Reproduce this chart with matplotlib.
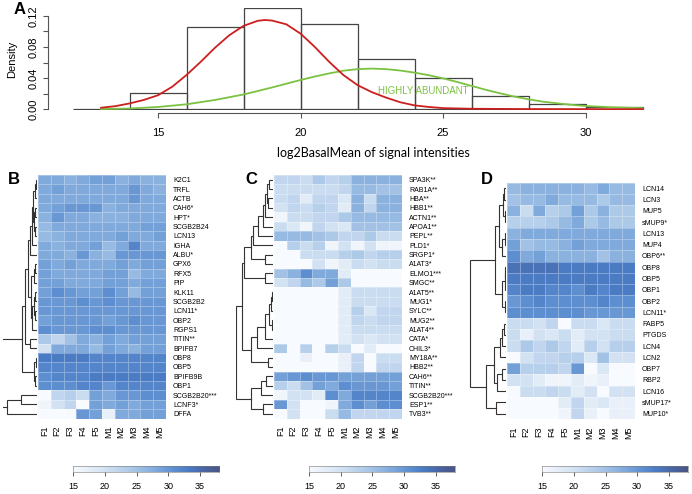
import matplotlib
matplotlib.use("Agg")
import matplotlib.pyplot as plt
import numpy as np
from matplotlib.colors import LinearSegmentedColormap

W, H = 692, 494

# ---------------- Panel A data ----------------
bin_edges = [12, 14, 16, 18, 20, 22, 24, 26, 28, 30, 32]
bin_density = [0.0, 0.0205, 0.105, 0.1295, 0.109, 0.0645, 0.040, 0.0175, 0.0064, 0.0033]

red_x = [13.0, 13.5, 14.0, 14.5, 15.0, 15.5, 16.0, 16.5, 17.0, 17.5, 18.0, 18.5, 18.75, 19.0,
         19.5, 20.0, 20.5, 21.0, 21.5, 22.0, 22.5, 23.0, 23.5, 24.0, 24.5, 25.0, 26, 28, 30, 32]
red_y = [0.002, 0.004, 0.0075, 0.012, 0.018, 0.029, 0.044, 0.061, 0.079, 0.095, 0.107, 0.1135,
         0.1145, 0.1138, 0.109, 0.097, 0.080, 0.061, 0.044, 0.031, 0.022, 0.015, 0.009, 0.005,
         0.003, 0.0015, 0.0007, 0.0003, 0.0002, 0.0001]
green_x = [13, 14, 15, 16, 17, 18, 19, 20, 20.5, 21, 21.5, 22, 22.5, 23, 23.5, 24, 24.5, 25,
           25.5, 26, 26.5, 27, 27.5, 28, 28.5, 29, 29.5, 30, 31, 32]
green_y = [0.0003, 0.001, 0.003, 0.0064, 0.012, 0.019, 0.028, 0.0376, 0.042, 0.046, 0.0495,
           0.0515, 0.0522, 0.0515, 0.0497, 0.047, 0.0437, 0.0397, 0.035, 0.030, 0.025, 0.0205,
           0.0163, 0.0128, 0.0098, 0.0077, 0.0058, 0.0042, 0.0025, 0.0015]

# ---------------- Heatmap data ----------------
samples = ["F1", "F2", "F3", "F4", "F5", "M1", "M2", "M3", "M4", "M5"]

genes_B = ["K2C1", "TRFL", "ACTB", "CAH6*", "HPT*", "SCGB2B24", "LCN13", "IGHA", "ALBU*",
           "GPX6", "RFX5", "PIP", "KLK11", "SCGB2B2", "LCN11*", "OBP2", "RGPS1", "TITIN**",
           "BPIFB7", "OBP8", "OBP5", "BPIFB9B", "OBP1", "SCGB2B20***", "LCNF3*", "DFFA"]
vals_B = [
    [28, 28, 27, 28, 29, 29, 27, 28, 27, 27],
    [28, 29, 28, 28, 28, 28, 28, 30, 28, 27],
    [28, 28, 28, 28, 28, 28, 28, 30, 28, 28],
    [28, 29, 30, 30, 30, 27, 28, 28, 28, 28],
    [27, 30, 28, 28, 27, 27, 27, 28, 28, 28],
    [26, 28, 28, 28, 28, 28, 28, 28, 29, 29],
    [26, 27, 28, 28, 28, 28, 29, 28, 28, 29],
    [28, 27, 28, 28, 29, 26, 28, 32, 28, 28],
    [28, 28, 27, 30, 27, 26, 30, 30, 30, 30],
    [29, 28, 29, 28, 28, 28, 29, 28, 29, 29],
    [29, 28, 28, 28, 28, 29, 29, 26, 28, 28],
    [29, 29, 28, 28, 28, 29, 29, 28, 29, 29],
    [29, 31, 30, 29, 29, 31, 29, 26, 29, 29],
    [30, 30, 30, 31, 30, 31, 30, 30, 30, 30],
    [30, 30, 30, 30, 30, 30, 30, 30, 30, 30],
    [29, 30, 30, 30, 30, 29, 30, 31, 30, 30],
    [31, 30, 30, 30, 31, 31, 30, 30, 30, 30],
    [24, 22, 25, 28, 27, 29, 28, 29, 29, 29],
    [20, 28, 28, 28, 26, 29, 28, 27, 29, 29],
    [33, 33, 33, 33, 32, 32, 32, 32, 32, 32],
    [32, 32, 32, 32, 32, 32, 32, 32, 32, 32],
    [31, 32, 32, 32, 33, 33, 33, 33, 33, 33],
    [31, 31, 31, 32, 32, 30, 32, 32, 32, 32],
    [15, 22, 23, 21, 29, 28, 30, 30, 31, 31],
    [16, 20, 22, 15, 29, 28, 29, 28, 29, 29],
    [15, 15, 15, 30, 29, 17, 28, 28, 29, 29],
]

genes_C = ["SPA3K**", "RAB1A**", "HBA**", "HBB1**", "ACTN1**", "APOA1**", "PEPL**", "PLD1*",
           "SRGP1*", "A1AT3*", "ELMO1***", "SMGC**", "A1AT5**", "MUG1*", "SYLC**", "MUG2**",
           "A1AT4**", "CATA*", "CHIL3*", "MY18A**", "HBB2**", "CAH6**", "TITIN**",
           "SCGB2B20***", "ESP1**", "TVB3**"]
vals_C = [
    [22, 22, 21, 24, 22, 23, 27, 27, 27, 27],
    [21, 21, 21, 21, 21, 22, 26, 26, 25, 25],
    [21, 22, 18, 22, 22, 19, 27, 21, 27, 27],
    [20, 22, 21, 23, 22, 18, 27, 22, 27, 27],
    [16, 21, 21, 22, 22, 24, 26, 26, 26, 26],
    [21, 19, 16, 22, 20, 19, 25, 25, 25, 25],
    [26, 26, 26, 25, 24, 22, 22, 24, 21, 21],
    [15, 23, 21, 23, 16, 20, 16, 20, 16, 16],
    [15, 15, 21, 21, 21, 23, 24, 22, 23, 23],
    [15, 15, 15, 20, 16, 18, 21, 20, 21, 21],
    [25, 27, 31, 28, 28, 18, 15, 15, 15, 15],
    [20, 22, 26, 24, 29, 24, 15, 15, 15, 15],
    [15, 15, 15, 15, 15, 18, 21, 21, 21, 21],
    [15, 15, 15, 15, 15, 18, 21, 21, 21, 21],
    [15, 15, 15, 15, 15, 18, 23, 19, 22, 22],
    [15, 15, 15, 15, 15, 18, 22, 21, 22, 22],
    [15, 15, 15, 15, 15, 18, 21, 21, 21, 21],
    [15, 15, 15, 15, 15, 18, 20, 19, 20, 20],
    [24, 15, 23, 15, 23, 21, 15, 18, 15, 15],
    [15, 15, 17, 15, 15, 17, 22, 15, 21, 21],
    [15, 15, 15, 15, 15, 17, 22, 15, 22, 22],
    [29, 30, 31, 30, 30, 29, 29, 29, 29, 29],
    [23, 21, 25, 29, 28, 31, 30, 30, 30, 29],
    [16, 20, 20, 18, 31, 28, 32, 32, 32, 32],
    [30, 20, 15, 15, 16, 28, 31, 29, 31, 31],
    [15, 20, 15, 15, 21, 26, 22, 22, 22, 22],
]

genes_D = ["LCN14", "LCN3", "MUP5", "sMUP9*", "LCN13", "MUP4", "OBP6**", "OBP8", "OBP5",
           "OBP1", "OBP2", "LCN11*", "FABP5", "PTGDS", "LCN4", "LCN2", "OBP7", "RBP2",
           "LCN16", "sMUP17*", "MUP10*"]
vals_D = [
    [26, 27, 27, 27, 27, 27, 26, 28, 26, 26],
    [25, 26, 26, 28, 26, 26, 26, 24, 26, 26],
    [27, 21, 28, 23, 24, 29, 24, 27, 24, 24],
    [23, 23, 23, 24, 26, 28, 24, 26, 24, 24],
    [27, 28, 28, 28, 28, 28, 28, 28, 28, 28],
    [29, 25, 26, 26, 27, 29, 28, 28, 28, 28],
    [31, 28, 29, 27, 27, 27, 27, 25, 27, 27],
    [34, 34, 34, 34, 33, 33, 33, 33, 33, 33],
    [33, 33, 33, 33, 33, 33, 33, 33, 33, 33],
    [32, 33, 33, 32, 32, 31, 33, 32, 33, 33],
    [30, 31, 32, 31, 31, 31, 31, 32, 31, 31],
    [31, 31, 31, 31, 31, 31, 30, 30, 30, 30],
    [21, 21, 20, 22, 15, 21, 21, 19, 21, 21],
    [21, 17, 20, 19, 21, 18, 20, 20, 21, 21],
    [21, 24, 22, 24, 22, 18, 23, 20, 23, 23],
    [15, 20, 22, 22, 23, 23, 19, 25, 20, 20],
    [29, 23, 23, 23, 22, 30, 15, 19, 15, 15],
    [20, 20, 18, 16, 16, 18, 16, 17, 15, 15],
    [15, 21, 21, 22, 21, 18, 20, 15, 20, 20],
    [15, 15, 15, 15, 18, 22, 18, 19, 17, 17],
    [15, 15, 15, 15, 16, 22, 17, 15, 17, 17],
]

# dendrograms: (left, right, merge height); leaves are row indices
B_a = ((0, 1, 1.5), 2, 2.5)
B_d = ((3, 4, 2.3), (5, 6, 2.5), 3.5)
B_u1 = (((B_a, B_d, 4.5), 7, 5.5), 8, 7.0)
B_u2 = (((9, 10, 2.5), 11, 3.5), (((12, 13, 2.0), (14, 15, 2.5), 3.5), 16, 5.0), 6.5)
B_top = (((B_u1, B_u2, 9.0), (17, 18, 7.0), 12.0), ((19, 20, 1.5), (21, 22, 2.0), 3.5), 15.3)
B_low = ((23, 24, 16.0), 25, 29.7)
tree_B = (B_top, B_low, 60.0)

C_a = (((((0, 1, 4.0), (2, 3, 5.0), 6.0), 4, 8.0), 5, 10.0), 6, 15.0)
C_b = ((C_a, 7, 20.0), (8, 9, 8.0), 22.0)
C_up = ((C_b, (10, 11, 8.0), 29.0),
        ((((((12, 13, 1.0), 14, 2.0), (15, 16, 1.5), 4.0), 17, 8.0), 18, 16.0), (19, 20, 5.0), 22.0),
        31.0)
C_low = (((21, 22, 7.0), 23, 12.0), (24, 25, 10.0), 22.0)
tree_C = (C_up, C_low, 37.0)

D_up = ((((0, 1, 1.7), (2, 3, 1.0), 3.3), ((4, 5, 1.0), 6, 4.0), 6.7),
        (((7, 8, 0.7), 9, 1.5), (10, 11, 1.0), 4.0), 11.0)
D_low = (((((12, 13, 2.0), 14, 4.0), 15, 6.0), ((16, 17, 4.0), 18, 9.0), 12.0), (19, 20, 10.0), 20.0)
tree_D = (D_up, D_low, 36.0)

# ---------------- colours / fonts ----------------
plt.rcParams["font.family"] = ["Liberation Sans", "DejaVu Sans"]
cmap = LinearSegmentedColormap.from_list(
    "blu",
    [(0.0, "#f7fafe"), (5 / 23, "#d3e2f3"), (9 / 23, "#adc9e8"), (12 / 23, "#8bb2df"),
     (14 / 23, "#74a0d8"), (16 / 23, "#5e8ed0"), (18 / 23, "#4b7cc4"), (20 / 23, "#4a6aaa"),
     (1.0, "#4a5585")])
VMIN, VMAX = 15, 38

fig = plt.figure(figsize=(W / 100, H / 100), dpi=100)


def rect(x0, y0, x1, y1):
    return [x0 / W, 1 - y1 / H, (x1 - x0) / W, (y1 - y0) / H]


# ---------------- Panel A ----------------
axA = fig.add_axes(rect(48, 8, 660, 110))
lefts = bin_edges[:-1]
axA.bar(lefts, bin_density, width=2, align="edge", fill=False, edgecolor="#444444", linewidth=0.9)
axA.plot(green_x, green_y, color="#7cc242", lw=1.3)
axA.plot(red_x, red_y, color="#cc1f1f", lw=1.3)
axA.set_xlim(11.14, 32.61)
axA.set_ylim(-0.0009, 0.1299)
for s in ["top", "right"]:
    axA.spines[s].set_visible(False)
axA.spines["bottom"].set_position(("outward", 2.5))
axA.spines["bottom"].set_bounds(15, 30)
axA.spines["left"].set_bounds(0, 0.12)
for s in ["bottom", "left"]:
    axA.spines[s].set_color("#555555")
    axA.spines[s].set_linewidth(0.8)
axA.set_xticks([15, 20, 25, 30])
axA.set_yticks([0.0, 0.02, 0.04, 0.06, 0.08, 0.10, 0.12])
axA.set_yticklabels(["0.00", "", "0.04", "", "0.08", "", "0.12"], rotation=90, va="center")
axA.tick_params(axis="both", labelsize=8, color="#555555", length=3.5, width=0.8)
axA.tick_params(axis="x", pad=7)
axA.set_ylabel("Density", fontsize=8, labelpad=8)
axA.text(24.3, 0.0235, "HIGHLY ABUNDANT", color="#7cc242", fontsize=7, ha="center", va="center")
fig.text(14 / W, 1 - 10 / H, "A", fontsize=12, fontweight="bold", ha="left", va="center")
fig.text(373 / W, 1 - 153 / H, "log2BasalMean of signal intensities", fontsize=9,
         ha="center", va="center", family=["Lato", "DejaVu Sans"])


def draw_tree(ax, node):
    if isinstance(node, int):
        return node + 0.5, 0.0
    l, r, h = node
    yl, hl = draw_tree(ax, l)
    yr, hr = draw_tree(ax, r)
    ax.plot([hl, h, h, hr], [yl, yl, yr, yr], color="#333333", lw=0.8, solid_joinstyle="miter")
    return (yl + yr) / 2, h


def panel(letter, genes, vals, tree, hx0, hx1, hy0, hy1, dx0, cbx15, cbx35, lx, ly):
    n = len(genes)
    ax = fig.add_axes(rect(hx0, hy0, hx1, hy1))
    data = np.array(vals, dtype=float)
    ax.pcolormesh(np.arange(11), np.arange(n + 1), data, cmap=cmap, vmin=VMIN, vmax=VMAX,
                  edgecolors=(1, 1, 1, 0.3), linewidth=0.4)
    ax.set_xlim(0, 10)
    ax.set_ylim(n, 0)
    for s in ax.spines.values():
        s.set_visible(False)
    ax.yaxis.tick_right()
    ax.set_yticks(np.arange(n) + 0.5)
    ax.set_yticklabels(genes, fontsize=5)
    ax.set_xticks(np.arange(10) + 0.5)
    ax.set_xticklabels(samples, rotation=90, fontsize=6.5)
    ax.tick_params(axis="y", length=0, pad=5)
    ax.tick_params(axis="x", length=0, pad=5)
    # dendrogram
    axd = fig.add_axes(rect(dx0, hy0, hx0 - 1, hy1))
    draw_tree(axd, tree)
    axd.set_xlim(hx0 - 1 - dx0, 0)
    axd.set_ylim(n, 0)
    axd.axis("off")
    # colorbar
    ppu = (cbx35 - cbx15) / 20.0
    cx1 = cbx15 + ppu * (VMAX - VMIN)
    axc = fig.add_axes(rect(cbx15, 466, cx1, 472))
    grad = np.linspace(VMIN, VMAX, 256)[None, :]
    axc.imshow(grad, aspect="auto", cmap=cmap, vmin=VMIN, vmax=VMAX,
               extent=[VMIN, VMAX, 0, 1])
    axc.set_xlim(VMIN, VMAX)
    axc.set_yticks([])
    axc.set_xticks([15, 20, 25, 30, 35])
    axc.tick_params(axis="x", labelsize=6.5, length=3, width=0.6, color="#444444", pad=4)
    for s in axc.spines.values():
        s.set_linewidth(0.4)
        s.set_color("#777777")
    fig.text(lx / W, 1 - ly / H, letter, fontsize=12, fontweight="bold", ha="left", va="center")


panel("B", genes_B, vals_B, tree_B, 38, 166, 175, 418.5, 3, 73, 200, 8, 179)
panel("C", genes_C, vals_C, tree_C, 274, 402, 175, 418.5, 236, 309, 435.7, 245, 179)
panel("D", genes_D, vals_D, tree_D, 507, 635, 182.7, 419.3, 469, 542.3, 668.7, 481, 180)

fig.savefig("out.png", dpi=100)
